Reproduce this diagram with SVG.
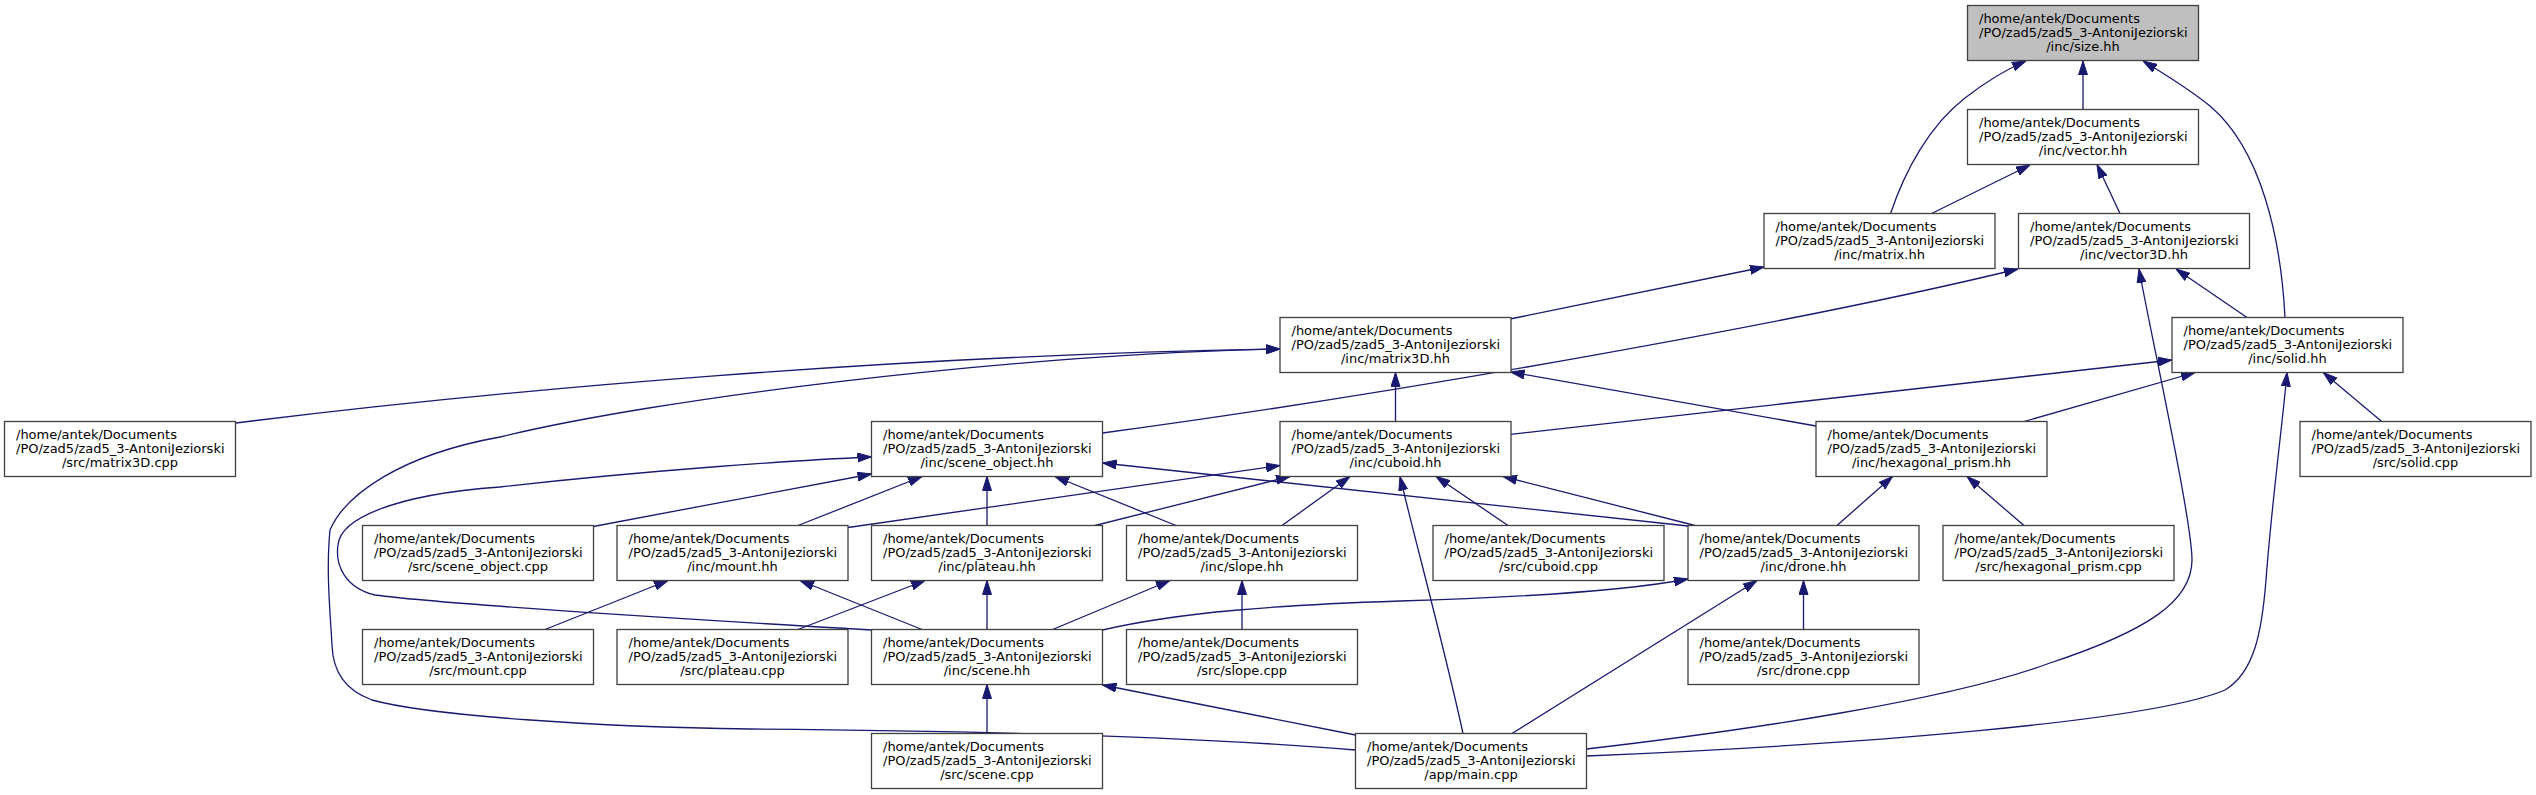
<svg xmlns="http://www.w3.org/2000/svg" width="2536" height="795" viewBox="0 0 2536 795">
<style>
.node rect{fill:#ffffff;stroke:#404040;stroke-width:1.3}
.root rect{fill:#bfbfbf}
.node text{font-family:"DejaVu Sans","Liberation Sans",sans-serif;font-size:13px;fill:#000000}
.node text.c{text-anchor:middle}
#edges path{fill:none;stroke:#191970;stroke-width:1.3;marker-end:url(#ah)}
</style>
<defs>
<marker id="ah" markerUnits="userSpaceOnUse" viewBox="0 0 14 10" refX="14" refY="5" markerWidth="14" markerHeight="10" orient="auto"><path d="M0,0.5 L14,5 L0,9.5 z" fill="#191970" stroke="#191970" stroke-width="1"/></marker>
</defs>
<rect width="2536" height="795" fill="#ffffff"/>
<g id="edges">
<path d="M2083,109.5 L2083,61"/>
<path d="M1890.6,213.5 C1905,170 1930,125 1965,98 C1988,80 2005,70 2026,61"/>
<path d="M2285,317.5 C2281,240 2262,150 2210,106 C2190,90 2168,76 2143,61"/>
<path d="M1931.6,213.5 L2030,165"/>
<path d="M2120,213.5 L2097,164.5"/>
<path d="M1510,319 L1764,267"/>
<path d="M1102.5,433 C1400,393 1800,322 2018,269"/>
<path d="M2247,317.5 L2176,269"/>
<path d="M1586.5,749 C1750,730 1950,700 2050,663 C2150,630 2192,600 2192,560 C2192,520 2150,330 2139,269"/>
<path d="M236,423 C500,390 900,355 1280,349"/>
<path d="M1355.5,750 C1200,737 1000,731 750,729 C600,727 430,716 372,700 C345,690 333,672 332,645 C330,610 326,570 330,530 C345,495 400,455 500,437 C650,400 1000,355 1280,349"/>
<path d="M871.5,630 C700,620 450,605 375,595 C345,588 335,565 338,545 C340,520 390,495 500,487 C650,470 800,460 871.5,457"/>
<path d="M593.3,526.5 L871.5,474"/>
<path d="M798,525.5 L922,476.5"/>
<path d="M848,527.5 L1280,465.5"/>
<path d="M922,629.5 L800,580.5"/>
<path d="M545,629.5 L668,580.5"/>
<path d="M798,629.5 L925,580.5"/>
<path d="M987,629.5 L987,580.5"/>
<path d="M987,525.5 L987,476.5"/>
<path d="M1176,525.5 L1055,476.5"/>
<path d="M1688,526 L1102.5,463"/>
<path d="M1695,525.5 L1503,476.5"/>
<path d="M1508,525.5 L1436,476.5"/>
<path d="M1282,525.5 L1350,476.5"/>
<path d="M1093,526 L1290,476.5"/>
<path d="M1463,733.5 C1445,650 1415,540 1400,476.5"/>
<path d="M1242,629.5 L1242,580.5"/>
<path d="M1052.6,629.5 L1170,580.5"/>
<path d="M1102.5,630 C1180,612 1280,605 1400,601 C1500,598 1620,592 1688,579"/>
<path d="M987,733.5 L987,684.5"/>
<path d="M1355.5,735 L1102.5,685"/>
<path d="M1512,733.5 L1757,580.5"/>
<path d="M1803.5,629.5 L1803.5,580.5"/>
<path d="M1586.5,756 C1850,745 2150,722 2225,690 C2255,672 2262,630 2266,580 C2272,500 2283,420 2287,372.5"/>
<path d="M1510.5,434.3 L2172,360"/>
<path d="M2024,421.5 L2195,372.5"/>
<path d="M1816,426 L1510.5,372"/>
<path d="M1837,525.5 L1892.5,476.5"/>
<path d="M2024,525.5 L1967,476.5"/>
<path d="M2381.7,421.5 L2323.3,372.5"/>
<path d="M1395.5,421.5 L1395.5,372.5"/>
</g>
<g id="n_size_hh" class="node root"><rect x="1967.5" y="5.5" width="231" height="55"/><text x="1979" y="23.3">/home/antek/Documents</text><text x="1979" y="37.1">/PO/zad5/zad5_3-AntoniJeziorski</text><text class="c" x="2083" y="50.9">/inc/size.hh</text></g>
<g id="n_vector_hh" class="node"><rect x="1967.5" y="109.5" width="231" height="55"/><text x="1979" y="127.3">/home/antek/Documents</text><text x="1979" y="141.1">/PO/zad5/zad5_3-AntoniJeziorski</text><text class="c" x="2083" y="154.9">/inc/vector.hh</text></g>
<g id="n_matrix_hh" class="node"><rect x="1764" y="213.5" width="231" height="55"/><text x="1775.5" y="231.3">/home/antek/Documents</text><text x="1775.5" y="245.1">/PO/zad5/zad5_3-AntoniJeziorski</text><text class="c" x="1879.5" y="258.9">/inc/matrix.hh</text></g>
<g id="n_vector3D_hh" class="node"><rect x="2018.5" y="213.5" width="231" height="55"/><text x="2030" y="231.3">/home/antek/Documents</text><text x="2030" y="245.1">/PO/zad5/zad5_3-AntoniJeziorski</text><text class="c" x="2134" y="258.9">/inc/vector3D.hh</text></g>
<g id="n_matrix3D_hh" class="node"><rect x="1280" y="317.5" width="231" height="55"/><text x="1291.5" y="335.3">/home/antek/Documents</text><text x="1291.5" y="349.1">/PO/zad5/zad5_3-AntoniJeziorski</text><text class="c" x="1395.5" y="362.9">/inc/matrix3D.hh</text></g>
<g id="n_solid_hh" class="node"><rect x="2172" y="317.5" width="231" height="55"/><text x="2183.5" y="335.3">/home/antek/Documents</text><text x="2183.5" y="349.1">/PO/zad5/zad5_3-AntoniJeziorski</text><text class="c" x="2287.5" y="362.9">/inc/solid.hh</text></g>
<g id="n_matrix3D_cpp" class="node"><rect x="4.5" y="421.5" width="231" height="55"/><text x="16" y="439.3">/home/antek/Documents</text><text x="16" y="453.1">/PO/zad5/zad5_3-AntoniJeziorski</text><text class="c" x="120" y="466.9">/src/matrix3D.cpp</text></g>
<g id="n_scene_object_hh" class="node"><rect x="871.5" y="421.5" width="231" height="55"/><text x="883" y="439.3">/home/antek/Documents</text><text x="883" y="453.1">/PO/zad5/zad5_3-AntoniJeziorski</text><text class="c" x="987" y="466.9">/inc/scene_object.hh</text></g>
<g id="n_cuboid_hh" class="node"><rect x="1280" y="421.5" width="231" height="55"/><text x="1291.5" y="439.3">/home/antek/Documents</text><text x="1291.5" y="453.1">/PO/zad5/zad5_3-AntoniJeziorski</text><text class="c" x="1395.5" y="466.9">/inc/cuboid.hh</text></g>
<g id="n_hexagonal_prism_hh" class="node"><rect x="1816" y="421.5" width="231" height="55"/><text x="1827.5" y="439.3">/home/antek/Documents</text><text x="1827.5" y="453.1">/PO/zad5/zad5_3-AntoniJeziorski</text><text class="c" x="1931.5" y="466.9">/inc/hexagonal_prism.hh</text></g>
<g id="n_solid_cpp" class="node"><rect x="2300" y="421.5" width="231" height="55"/><text x="2311.5" y="439.3">/home/antek/Documents</text><text x="2311.5" y="453.1">/PO/zad5/zad5_3-AntoniJeziorski</text><text class="c" x="2415.5" y="466.9">/src/solid.cpp</text></g>
<g id="n_scene_object_cpp" class="node"><rect x="362.5" y="525.5" width="231" height="55"/><text x="374" y="543.3">/home/antek/Documents</text><text x="374" y="557.1">/PO/zad5/zad5_3-AntoniJeziorski</text><text class="c" x="478" y="570.9">/src/scene_object.cpp</text></g>
<g id="n_mount_hh" class="node"><rect x="617" y="525.5" width="231" height="55"/><text x="628.5" y="543.3">/home/antek/Documents</text><text x="628.5" y="557.1">/PO/zad5/zad5_3-AntoniJeziorski</text><text class="c" x="732.5" y="570.9">/inc/mount.hh</text></g>
<g id="n_plateau_hh" class="node"><rect x="871.5" y="525.5" width="231" height="55"/><text x="883" y="543.3">/home/antek/Documents</text><text x="883" y="557.1">/PO/zad5/zad5_3-AntoniJeziorski</text><text class="c" x="987" y="570.9">/inc/plateau.hh</text></g>
<g id="n_slope_hh" class="node"><rect x="1126.5" y="525.5" width="231" height="55"/><text x="1138" y="543.3">/home/antek/Documents</text><text x="1138" y="557.1">/PO/zad5/zad5_3-AntoniJeziorski</text><text class="c" x="1242" y="570.9">/inc/slope.hh</text></g>
<g id="n_cuboid_cpp" class="node"><rect x="1433" y="525.5" width="231" height="55"/><text x="1444.5" y="543.3">/home/antek/Documents</text><text x="1444.5" y="557.1">/PO/zad5/zad5_3-AntoniJeziorski</text><text class="c" x="1548.5" y="570.9">/src/cuboid.cpp</text></g>
<g id="n_drone_hh" class="node"><rect x="1688" y="525.5" width="231" height="55"/><text x="1699.5" y="543.3">/home/antek/Documents</text><text x="1699.5" y="557.1">/PO/zad5/zad5_3-AntoniJeziorski</text><text class="c" x="1803.5" y="570.9">/inc/drone.hh</text></g>
<g id="n_hexagonal_prism_cpp" class="node"><rect x="1943" y="525.5" width="231" height="55"/><text x="1954.5" y="543.3">/home/antek/Documents</text><text x="1954.5" y="557.1">/PO/zad5/zad5_3-AntoniJeziorski</text><text class="c" x="2058.5" y="570.9">/src/hexagonal_prism.cpp</text></g>
<g id="n_mount_cpp" class="node"><rect x="362.5" y="629.5" width="231" height="55"/><text x="374" y="647.3">/home/antek/Documents</text><text x="374" y="661.1">/PO/zad5/zad5_3-AntoniJeziorski</text><text class="c" x="478" y="674.9">/src/mount.cpp</text></g>
<g id="n_plateau_cpp" class="node"><rect x="617" y="629.5" width="231" height="55"/><text x="628.5" y="647.3">/home/antek/Documents</text><text x="628.5" y="661.1">/PO/zad5/zad5_3-AntoniJeziorski</text><text class="c" x="732.5" y="674.9">/src/plateau.cpp</text></g>
<g id="n_scene_hh" class="node"><rect x="871.5" y="629.5" width="231" height="55"/><text x="883" y="647.3">/home/antek/Documents</text><text x="883" y="661.1">/PO/zad5/zad5_3-AntoniJeziorski</text><text class="c" x="987" y="674.9">/inc/scene.hh</text></g>
<g id="n_slope_cpp" class="node"><rect x="1126.5" y="629.5" width="231" height="55"/><text x="1138" y="647.3">/home/antek/Documents</text><text x="1138" y="661.1">/PO/zad5/zad5_3-AntoniJeziorski</text><text class="c" x="1242" y="674.9">/src/slope.cpp</text></g>
<g id="n_drone_cpp" class="node"><rect x="1688" y="629.5" width="231" height="55"/><text x="1699.5" y="647.3">/home/antek/Documents</text><text x="1699.5" y="661.1">/PO/zad5/zad5_3-AntoniJeziorski</text><text class="c" x="1803.5" y="674.9">/src/drone.cpp</text></g>
<g id="n_scene_cpp" class="node"><rect x="871.5" y="733.5" width="231" height="55"/><text x="883" y="751.3">/home/antek/Documents</text><text x="883" y="765.1">/PO/zad5/zad5_3-AntoniJeziorski</text><text class="c" x="987" y="778.9">/src/scene.cpp</text></g>
<g id="n_main_cpp" class="node"><rect x="1355.5" y="733.5" width="231" height="55"/><text x="1367" y="751.3">/home/antek/Documents</text><text x="1367" y="765.1">/PO/zad5/zad5_3-AntoniJeziorski</text><text class="c" x="1471" y="778.9">/app/main.cpp</text></g>
</svg>
